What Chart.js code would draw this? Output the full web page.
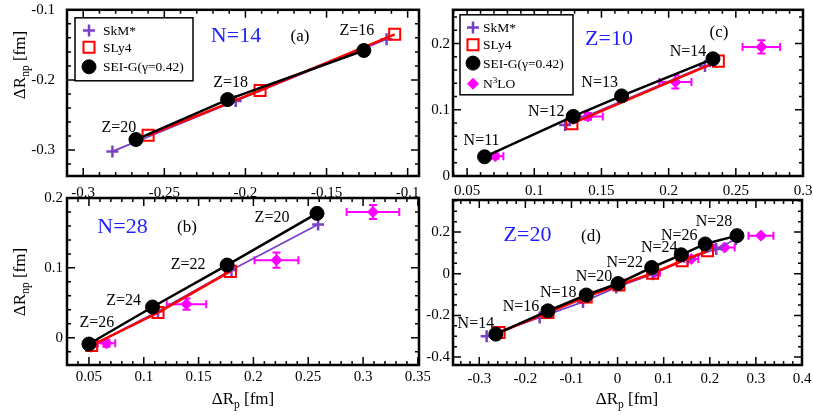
<!DOCTYPE html>
<html>
<head>
<meta charset="utf-8">
<script src="https://cdn.jsdelivr.net/npm/chart.js@4.4.1/dist/chart.umd.min.js"></script>
<style>
  body { margin: 0; background: #fff; width: 813px; height: 419px; position: relative; overflow: hidden; }
  canvas { position: absolute; }
</style>
</head>
<body>
<canvas id="chartA" width="430" height="200" style="left:0px;top:0px"></canvas>
<canvas id="chartB" width="430" height="234" style="left:0px;top:185px"></canvas>
<canvas id="chartC" width="393" height="200" style="left:420px;top:0px"></canvas>
<canvas id="chartD" width="393" height="234" style="left:420px;top:185px"></canvas>
<script>
/* =======================
   DATA  (x = ΔRp, y = ΔRnp, in fm)
======================= */

// (a) N=14 isotones: Z = 20, 18, 16
const aLabels = ["Z=20", "Z=18", "Z=16"];
const aSkM_x = [-0.282, -0.206, -0.113];
const aSkM_y = [-0.302, -0.230, -0.142];
const aSLy4_x = [-0.260, -0.191, -0.108];
const aSLy4_y = [-0.279, -0.215, -0.135];
const aSEI_x = [-0.2675, -0.211, -0.127];
const aSEI_y = [-0.285, -0.228, -0.158];

// (b) N=28 isotones: Z = 26, 24, 22, 20
const bLabels = ["Z=26", "Z=24", "Z=22", "Z=20"];
const bSkM_x = [0.052, 0.113, 0.180, 0.259];
const bSkM_y = [-0.012, 0.038, 0.097, 0.162];
const bSLy4_x = [0.0525, 0.113, 0.179];
const bSLy4_y = [-0.011, 0.036, 0.095];
const bSEI_x = [0.050, 0.108, 0.176, 0.258];
const bSEI_y = [-0.009, 0.044, 0.104, 0.178];
const bN3LO_x = [0.066, 0.139, 0.221, 0.309];
const bN3LO_y = [-0.008, 0.048, 0.111, 0.180];
const bN3LO_xerr = [0.008, 0.018, 0.020, 0.024];
const bN3LO_yerr = [0.005, 0.008, 0.011, 0.010];

// (c) Z=10 isotopes: N = 11, 12, 13, 14
const cLabels = ["N=11", "N=12", "N=13", "N=14"];
const cSkM_x = [0.123, 0.227];
const cSkM_y = [0.077, 0.166];
const cSLy4_x = [0.128, 0.237];
const cSLy4_y = [0.079, 0.1735];
const cSEI_x = [0.063, 0.129, 0.165, 0.233];
const cSEI_y = [0.029, 0.090, 0.121, 0.177];
const cN3LO_x = [0.071, 0.140, 0.205, 0.269];
const cN3LO_y = [0.030, 0.090, 0.142, 0.195];
const cN3LO_xerr = [0.006, 0.011, 0.012, 0.014];
const cN3LO_yerr = [0.004, 0.005, 0.010, 0.010];

// (d) Z=20 isotopes: N = 14 ... 28
const dLabels = ["N=14", "N=16", "N=18", "N=20", "N=22", "N=24", "N=26", "N=28"];
const dSkM_x = [-0.284, -0.169, -0.075, -0.003, 0.076, 0.152, 0.214, 0.257];
const dSkM_y = [-0.300, -0.210, -0.135, -0.066, -0.002, 0.071, 0.119, 0.167];
const dSLy4_x = [-0.257, -0.151, -0.068, 0.003, 0.076, 0.140, 0.195];
const dSLy4_y = [-0.282, -0.186, -0.111, -0.054, 0.003, 0.0625, 0.110];
const dSEI_x = [-0.264, -0.151, -0.068, 0.001, 0.074, 0.138, 0.190, 0.259];
const dSEI_y = [-0.290, -0.178, -0.102, -0.047, 0.030, 0.091, 0.143, 0.183];
const dN3LO_x = [0.080, 0.160, 0.232, 0.311];
const dN3LO_y = [0.006, 0.071, 0.126, 0.183];
const dN3LO_xerr = [0.012, 0.015, 0.022, 0.027];
const dN3LO_yerr = [0.006, 0.008, 0.008, 0.008];

/* =======================
   STYLE
======================= */

const FONT = "'Liberation Serif', 'Times New Roman', Times, serif";
const PURPLE = "#7b3fc7";
const RED = "#ff0000";
const MAGENTA = "#ff00ff";
const BLUE = "#1f1fff";

const zip = (xs, ys) => xs.map((x, i) => ({ x, y: ys[i] }));
const fmt = v => String(Number(v.toFixed(3)));
const font = s => s + "px " + FONT;

const MARK = {
  skm: { pointStyle: "cross", radius: 6, rotation: 0, borderWidth: 2.5, color: PURPLE, fill: PURPLE },
  sly: { pointStyle: "rect", radius: 7.8, rotation: 0, borderWidth: 2, color: RED, fill: "rgba(255,255,255,0)" },
  sei: { pointStyle: "circle", radius: 7, rotation: 0, borderWidth: 1, color: "#000", fill: "#000" },
  n3lo: { pointStyle: "rectRot", radius: 5.5, rotation: 0, borderWidth: 1, color: MAGENTA, fill: MAGENTA }
};

// text made of parts: [text, "sub"|"sup"|undefined]
function richText(ctx, parts, x, y, size, rotate, color) {
  ctx.save();
  ctx.translate(x, y);
  if (rotate) ctx.rotate(-Math.PI / 2);
  ctx.fillStyle = color || "#000";
  ctx.textBaseline = "alphabetic";
  ctx.textAlign = "left";
  let w = 0;
  parts.forEach(p => {
    ctx.font = font(p[1] ? size * 0.68 : size);
    w += ctx.measureText(p[0]).width;
  });
  let cx = -w / 2;
  parts.forEach(p => {
    ctx.font = font(p[1] ? size * 0.68 : size);
    let dy = size * 0.33;
    if (p[1] === "sub") dy += size * 0.28;
    if (p[1] === "sup") dy -= size * 0.42;
    ctx.fillText(p[0], cx, dy);
    cx += ctx.measureText(p[0]).width;
  });
  ctx.restore();
}

function marker(ctx, m, x, y) {
  ctx.save();
  ctx.strokeStyle = m.color;
  ctx.fillStyle = m.fill;
  ctx.lineWidth = m.borderWidth;
  Chart.helpers.drawPoint(ctx, m, x, y);
  ctx.restore();
}

function drawTicks(ctx, area, scale, horizontal, step, sub) {
  const sm = step / sub;
  const k0 = Math.ceil(scale.min / sm - 1e-6);
  const k1 = Math.floor(scale.max / sm + 1e-6);
  ctx.beginPath();
  for (let k = k0; k <= k1; k++) {
    const len = (k % sub === 0) ? 8 : 4;
    const p = scale.getPixelForValue(k * sm);
    if (horizontal) {
      ctx.moveTo(p, area.bottom); ctx.lineTo(p, area.bottom - len);
      ctx.moveTo(p, area.top); ctx.lineTo(p, area.top + len);
    } else {
      ctx.moveTo(area.left, p); ctx.lineTo(area.left + len, p);
      ctx.moveTo(area.right, p); ctx.lineTo(area.right - len, p);
    }
  }
  ctx.stroke();
}

/* =======================
   PANELS
======================= */

function makePanel(p) {
  const datasets = [
    { label: "SEI-G", data: zip(p.sei[0], p.sei[1]), showLine: true, borderColor: "#000", borderWidth: 2.5,
      pointStyle: "circle", pointRadius: MARK.sei.radius, pointBackgroundColor: "#000", pointBorderColor: "#000", pointBorderWidth: 1 },
    { label: "SLy4", data: zip(p.sly[0], p.sly[1]), showLine: true, borderColor: RED, borderWidth: 2.5,
      pointStyle: "rect", pointRadius: MARK.sly.radius, pointBackgroundColor: MARK.sly.fill, pointBorderColor: RED, pointBorderWidth: 2 },
    { label: "SkM*", data: zip(p.skm[0], p.skm[1]), showLine: true, borderColor: PURPLE, borderWidth: 1.8,
      pointStyle: "cross", pointRadius: MARK.skm.radius, pointBorderColor: PURPLE, pointBorderWidth: 2.5 }
  ];
  if (p.n3lo) {
    datasets.push({ label: "N3LO", data: zip(p.n3lo[0], p.n3lo[1]), showLine: false,
      pointStyle: "rectRot", pointRadius: MARK.n3lo.radius, pointBackgroundColor: MAGENTA, pointBorderColor: MAGENTA, pointBorderWidth: 1 });
  }

  const decor = {
    id: "decor",
    beforeDatasetsDraw(chart) {
      if (!p.n3lo) return;
      const ctx = chart.ctx, xs = chart.scales.x, ys = chart.scales.y;
      ctx.save();
      ctx.strokeStyle = MAGENTA;
      ctx.lineWidth = 2;
      ctx.beginPath();
      p.n3lo[0].forEach((x, i) => {
        const y = p.n3lo[1][i];
        const px = xs.getPixelForValue(x), py = ys.getPixelForValue(y);
        const x0 = xs.getPixelForValue(x - p.n3lo[2][i]), x1 = xs.getPixelForValue(x + p.n3lo[2][i]);
        const y0 = ys.getPixelForValue(y - p.n3lo[3][i]), y1 = ys.getPixelForValue(y + p.n3lo[3][i]);
        ctx.moveTo(x0, py); ctx.lineTo(x1, py);
        ctx.moveTo(x0, py - 4); ctx.lineTo(x0, py + 4);
        ctx.moveTo(x1, py - 4); ctx.lineTo(x1, py + 4);
        ctx.moveTo(px, y0); ctx.lineTo(px, y1);
        ctx.moveTo(px - 4, y0); ctx.lineTo(px + 4, y0);
        ctx.moveTo(px - 4, y1); ctx.lineTo(px + 4, y1);
      });
      ctx.stroke();
      ctx.restore();
    },
    afterDraw(chart) {
      const ctx = chart.ctx, a = chart.chartArea, xs = chart.scales.x, ys = chart.scales.y;
      ctx.save();
      // ticks and frame
      ctx.strokeStyle = "#000";
      ctx.lineWidth = 1.5;
      drawTicks(ctx, a, xs, true, p.xStep, p.xSub);
      drawTicks(ctx, a, ys, false, p.yStep, p.ySub);
      ctx.lineWidth = 2.5;
      ctx.strokeRect(a.left, a.top, a.right - a.left, a.bottom - a.top);

      // point labels next to SEI points
      ctx.fillStyle = "#000";
      ctx.font = font(16);
      ctx.textAlign = "center";
      ctx.textBaseline = "middle";
      p.labels.forEach((t, i) => {
        const px = xs.getPixelForValue(p.sei[0][i]), py = ys.getPixelForValue(p.sei[1][i]);
        ctx.fillText(t, px + p.labelOff[i][0], py + p.labelOff[i][1]);
      });

      // panel title and tag
      ctx.fillStyle = BLUE;
      ctx.font = font(22);
      ctx.fillText(p.title, a.left + p.titleAt[0], a.top + p.titleAt[1]);
      ctx.fillStyle = "#000";
      ctx.font = font(17);
      ctx.fillText(p.tag, a.left + p.tagAt[0], a.top + p.tagAt[1]);

      // legend box
      if (p.legend) {
        const L = p.legend;
        const bx = a.left + L.at[0], by = a.top + L.at[1];
        ctx.fillStyle = "#fff";
        ctx.fillRect(bx, by, L.w, L.h);
        ctx.strokeStyle = "#000";
        ctx.lineWidth = 1.5;
        ctx.strokeRect(bx, by, L.w, L.h);
        L.rows.forEach((r, i) => {
          marker(ctx, MARK[r.key], bx + L.markX, by + L.rowY[i]);
          richText(ctx, r.text, bx + L.textX + r.w / 2, by + L.rowY[i], 13.5, false);
        });
      }

      // axis titles
      if (p.yTitleAt) richText(ctx, [["ΔR"], ["np", "sub"], [" [fm]"]], p.yTitleAt[0], p.yTitleAt[1], 17, true);
      if (p.xTitleAt) richText(ctx, [["ΔR"], ["p", "sub"], [" [fm]"]], p.xTitleAt[0], p.xTitleAt[1], 17, false);
      ctx.restore();
    }
  };

  return new Chart(document.getElementById(p.id), {
    type: "scatter",
    data: { datasets },
    options: {
      responsive: false,
      animation: false,
      events: [],
      layout: { padding: p.pad },
      plugins: { legend: { display: false }, tooltip: { enabled: false } },
      scales: {
        x: {
          type: "linear", min: p.xRange[0], max: p.xRange[1],
          grid: { display: false, drawTicks: false }, border: { display: false },
          ticks: { stepSize: p.xStep, includeBounds: false, autoSkip: false, maxRotation: 0,
            padding: p.xPad, color: "#000", font: { family: FONT, size: 15 }, callback: fmt },
          afterFit: s => { s.height = p.xH; s.paddingLeft = 0; s.paddingRight = 0; }
        },
        y: {
          type: "linear", min: p.yRange[0], max: p.yRange[1],
          grid: { display: false, drawTicks: false }, border: { display: false },
          ticks: { stepSize: p.yStep, includeBounds: false, autoSkip: false,
            padding: p.yPad, color: "#000", font: { family: FONT, size: 15 }, callback: fmt },
          afterFit: s => { s.width = p.yW; s.paddingTop = 0; s.paddingBottom = 0; }
        }
      }
    },
    plugins: [decor]
  });
}

const legendRows = [
  { key: "skm", text: [["SkM*"]], w: 0 },
  { key: "sly", text: [["SLy4"]], w: 0 },
  { key: "sei", text: [["SEI-G(γ=0.42)"]], w: 0 },
  { key: "n3lo", text: [["N"], ["3", "sup"], ["LO"]], w: 0 }
];
// widths used to left-align legend text
(function measureLegend() {
  const c = document.createElement("canvas").getContext("2d");
  legendRows.forEach(r => {
    r.w = r.text.reduce((s, t) => { c.font = font(t[1] ? 13.5 * 0.68 : 13.5); return s + c.measureText(t[0]).width; }, 0);
  });
})();

makePanel({
  id: "chartA", xRange: [-0.31, -0.093], yRange: [-0.337, -0.1], xStep: 0.05, yStep: 0.1, xSub: 5, ySub: 5,
  pad: { left: 0, top: 6, right: 11, bottom: 0 }, yW: 67, xH: 24, xPad: 8, yPad: 12,
  skm: [aSkM_x, aSkM_y], sly: [aSLy4_x, aSLy4_y], sei: [aSEI_x, aSEI_y], n3lo: null,
  labels: aLabels, labelOff: [[-17, -12], [3, -17], [-7, -20]],
  title: "N=14", titleAt: [169, 26], tag: "(a)", tagAt: [233, 27],
  legend: { at: [8, 8], w: 118, h: 63, markX: 14, textX: 28, rowY: [12.7, 29.5, 49], rows: legendRows.slice(0, 3) },
  yTitleAt: [19, 65]
});

makePanel({
  id: "chartB", xRange: [0.03, 0.351], yRange: [-0.039, 0.2], xStep: 0.05, yStep: 0.1, xSub: 5, ySub: 5,
  pad: { left: 0, top: 13, right: 11, bottom: 0 }, yW: 67, xH: 54, xPad: 3, yPad: 4,
  skm: [bSkM_x, bSkM_y], sly: [bSLy4_x, bSLy4_y], sei: [bSEI_x, bSEI_y],
  n3lo: [bN3LO_x, bN3LO_y, bN3LO_xerr, bN3LO_yerr],
  labels: bLabels, labelOff: [[8, -21.5], [-29, -6], [-39, 0], [-45, 4]],
  title: "N=28", titleAt: [55.5, 29.5], tag: "(b)", tagAt: [120, 30],
  legend: null,
  yTitleAt: [19, 97], xTitleAt: [243, 213]
});

makePanel({
  id: "chartC", xRange: [0.0395, 0.3], yRange: [0, 0.251], xStep: 0.05, yStep: 0.1, xSub: 5, ySub: 5,
  pad: { left: 0, top: 5, right: 10, bottom: 0 }, yW: 33, xH: 24, xPad: 6, yPad: 3,
  skm: [cSkM_x, cSkM_y], sly: [cSLy4_x, cSLy4_y], sei: [cSEI_x, cSEI_y],
  n3lo: [cN3LO_x, cN3LO_y, cN3LO_xerr, cN3LO_yerr],
  labels: cLabels, labelOff: [[-3, -16], [-27, -5], [-22, -13], [-25, -7]],
  title: "Z=10", titleAt: [156, 29], tag: "(c)", tagAt: [266, 23],
  legend: { at: [7, 5], w: 113, h: 80, markX: 13, textX: 23, rowY: [12.7, 30, 48.3, 69], rows: legendRows }
});

makePanel({
  id: "chartD", xRange: [-0.357, 0.4], yRange: [-0.438, 0.354], xStep: 0.1, yStep: 0.2, xSub: 5, ySub: 4,
  pad: { left: 0, top: 15, right: 11, bottom: 0 }, yW: 33, xH: 54, xPad: 5, yPad: 3,
  skm: [dSkM_x, dSkM_y], sly: [dSLy4_x, dSLy4_y], sei: [dSEI_x, dSEI_y],
  n3lo: [dN3LO_x, dN3LO_y, dN3LO_xerr, dN3LO_yerr],
  labels: dLabels, labelOff: [[-20, -10], [-27, -4], [-28, -2], [-24, -7], [-27, -5], [-22, -6.5], [-26, -8], [-23, -14]],
  title: "Z=20", titleAt: [74.5, 35.5], tag: "(d)", tagAt: [138, 36.5],
  legend: null,
  xTitleAt: [207, 213]
});
</script>
</body>
</html>
